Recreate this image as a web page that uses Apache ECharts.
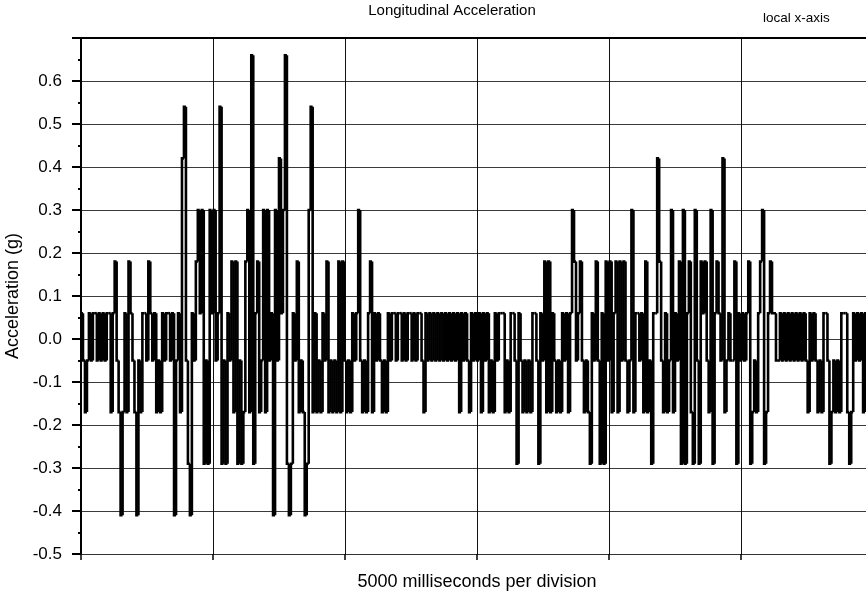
<!DOCTYPE html>
<html>
<head>
<meta charset="utf-8">
<script src="https://cdn.jsdelivr.net/npm/echarts@6/dist/echarts.min.js"></script>
<style>
  html, body { margin: 0; padding: 0; background: #fff; overflow: hidden; }
  #chart { width: 900px; height: 599px; }
</style>
</head>
<body>
<div id="chart"></div>
<script>
// Quantized acceleration levels (g) seen in the trace
const levels = [-0.41, -0.29, -0.17, -0.05, 0.06, 0.18, 0.30, 0.42, 0.54, 0.66];
// Sample spacing (ms)
const sampleMs = 75;
// Level index for each sample (400 samples = 30000 ms)
const levelIndex = [
  // 0 - 5000 ms
  4,3,2,3,4,3,4,4,3,4, 3,4,3,4,4,2,4,5,3,2, 0,2,4,2,5,4,3,2,0,3, 2,4,4,3,5,4,3,4,2,3,
  2,4,3,4,4,3,4,0,3,4, 2,7,8,3,1,0,4,3,5,6, 4,6,1,3,1,6,4,
  // 5000 - 10000 ms
  6,3,4,8,1,3,1,4,3,5, 2,5,1,3,1,2,5,6,2,9, 1,4,5,2,3,6,2,6,3,4, 0,6,3,7,4,6,9,1,0,1,
  4,3,5,2,3,2,0,1,6,8, 2,4,2,3,2,4,3,5,2,3, 2,3,2,5,2,5,3,
  // 10000 - 15000 ms
  2,3,2,4,3,4,6,3,2,3, 2,4,5,2,4,3,4,3,2,3, 2,4,3,4,4,3,4,4,3,4, 3,4,4,3,4,3,4,4,3,2,
  4,3,4,3,4,3,4,3,4,3, 4,3,4,3,4,3,4,2,4,3, 4,3,2,4,3,4,3,
  // 15000 - 20000 ms
  4,2,4,3,4,2,3,2,4,3, 4,4,4,2,3,2,4,4,3,1, 4,3,2,3,2,3,2,4,4,3, 1,4,3,5,2,5,2,4,3,2,
  3,2,4,3,4,2,4,6,5,3, 4,5,3,2,3,2,1,4,3,5, 3,1,4,1,5,3,5,
  // 20000 - 25000 ms
  2,4,5,2,5,3,5,3,2,3, 6,2,4,4,3,4,2,5,2,3, 1,4,4,7,5,3,2,4,2,3, 6,2,4,3,5,1,6,1,4,5,
  2,1,6,3,1,5,4,5,3,2, 6,1,4,5,4,3,7,2,3,4, 3,3,5,1,4,3,
  // 25000 - 30000 ms
  4,3,4,5,1,2,3,2,4,5, 6,1,2,4,5,4,4,3,3,4, 3,4,3,4,3,4,3,4,3,4, 3,4,3,2,4,3,4,3,2,3,
  2,4,4,3,1,2,3,2,3,2, 4,4,4,2,1,2,4,3,4,3, 4,2,4,3,4,3
];
// Axis ticks
const yTickValues = [-0.5, -0.4, -0.3, -0.2, -0.1, 0.0, 0.1, 0.2, 0.3, 0.4, 0.5, 0.6];
const yTickLabels = ['-0.5', '-0.4', '-0.3', '-0.2', '-0.1', '0.0', '0.1', '0.2', '0.3', '0.4', '0.5', '0.6'];

// Sample-and-hold trace: one item per sample = [start ms, end ms, previous level, level]
const holdData = levelIndex.map((k, i) => [
  i * sampleMs, (i + 1) * sampleMs,
  levels[i > 0 ? levelIndex[i - 1] : k], levels[k]
]);

const chart = echarts.init(document.getElementById('chart'), null, { renderer: 'canvas' });
const FONT = 'Liberation Sans, Arial, sans-serif';

chart.setOption({
  animation: false,
  backgroundColor: '#ffffff',
  graphic: [
    { type: 'text', x: 452, y: 3,
      style: { text: 'Longitudinal Acceleration', fill: '#000', font: '15px ' + FONT, textAlign: 'center' } },
    { type: 'text', x: 763, y: 11,
      style: { text: 'local x-axis', fill: '#000', font: '13.5px ' + FONT, textAlign: 'left' } }
  ],
  grid: { left: 81, top: 38, width: 792, height: 516, containLabel: false, outerBoundsMode: 'none' },
  xAxis: [
    {
      type: 'value', min: 0, max: 30000, interval: 5000,
      position: 'bottom',
      name: '5000 milliseconds per division',
      nameLocation: 'middle', nameGap: 19,
      nameTextStyle: { color: '#000', fontFamily: FONT, fontSize: 18 },
      axisLine: { show: true, onZero: false, lineStyle: { color: '#333', width: 1 } },
      axisTick: { show: true, length: 6, lineStyle: { color: '#000', width: 1.5 } },
      axisLabel: { show: false },
      splitLine: { show: true, lineStyle: { color: '#111', width: 1 } }
    },
    {
      type: 'value', min: 0, max: 30000, interval: 5000,
      position: 'top',
      axisLine: { show: true, onZero: false, lineStyle: { color: '#000', width: 2 } },
      axisTick: { show: false },
      axisLabel: { show: false },
      splitLine: { show: false }
    }
  ],
  yAxis: {
    type: 'value', min: -0.5, max: 0.7, interval: 0.1,
    name: 'Acceleration (g)',
    nameLocation: 'middle', nameGap: 54,
    nameTextStyle: { color: '#000', fontFamily: FONT, fontSize: 18 },
    axisLine: { show: true, onZero: false, lineStyle: { color: '#000', width: 2 } },
    axisTick: { show: true, length: 9, lineStyle: { color: '#000', width: 2 } },
    minorTick: { show: true, splitNumber: 2, length: 3, lineStyle: { color: '#000', width: 2 } },
    axisLabel: {
      color: '#000', fontFamily: FONT, fontSize: 17, margin: 19,
      formatter: function (v) {
        for (let j = 0; j < yTickValues.length; j++) {
          if (Math.abs(v - yTickValues[j]) < 1e-6) return yTickLabels[j];
        }
        return '';
      }
    },
    splitLine: { show: true, lineStyle: { color: '#3a3a3a', width: 1 } }
  },
  series: [{
    type: 'custom',
    xAxisIndex: 0,
    yAxisIndex: 0,
    data: holdData,
    encode: { x: [0, 1], y: [2, 3] },
    renderItem: function (params, api) {
      const t0 = api.value(0), t1 = api.value(1);
      const vPrev = api.value(2), v = api.value(3);
      const pA = api.coord([t0, vPrev]);
      const pB = api.coord([t0, v]);
      const pC = api.coord([t1, v]);
      return {
        type: 'polyline',
        shape: { points: [pA, pB, pC] },
        style: { stroke: '#000', lineWidth: 2.6, fill: null, lineJoin: 'miter', lineCap: 'butt' },
        silent: true
      };
    }
  }]
});
</script>
</body>
</html>
